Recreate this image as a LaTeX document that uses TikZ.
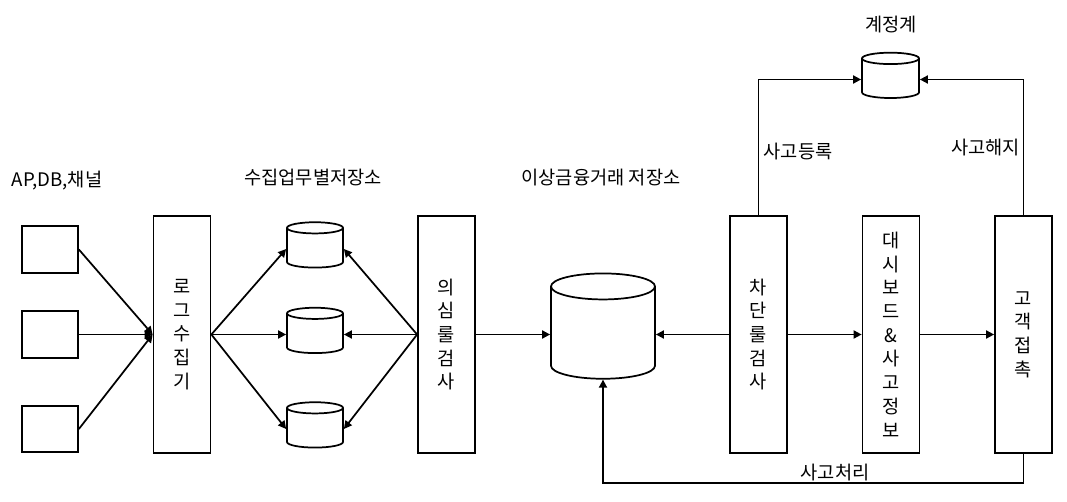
\documentclass[tikz,border=0pt]{standalone}
\usepackage{fontspec}
\setmainfont{Noto Sans CJK KR}
\usetikzlibrary{arrows.meta,shapes.geometric}

\begin{document}
\begin{tikzpicture}[x=0.75pt, y=-0.75pt, line width=1.3pt,
    font=\fontsize{14}{17.8}\selectfont,
    src/.style={draw, minimum width=42pt, minimum height=35pt},
    tallbox/.style={draw, minimum width=42.75pt, minimum height=177.75pt, align=center, inner sep=0pt},
    db/.style={draw, shape=cylinder, shape border rotate=90, aspect=0.2, inner sep=1pt, text width=40pt, minimum height=34pt},
    flow/.style={-{Triangle[length=6pt,width=6pt]}}]
\useasboundingbox (0,0) rectangle (1067,502);

% Draw the three sources and the log collector
\node[src] (src1) at (50,249.5) {};
\node[src] (src2) at (50,334.5) {};
\node[src] (src3) at (50,429) {};
\node at (57,181) (srclabel) {AP,DB,채널};
\node[tallbox] (collect) at (182,334.5) {로\\그\\수\\집\\기};

% Draw the per-task stores
\node[db] (store1) at (315,249) {};
\node[db] (store2) at (315,334.5) {};
\node[db] (store3) at (315,429) {};
\node at (313,178) (storelabel) {수집업무별저장소};

% Draw the rule checks, the big store and the right side
\node[tallbox] (suspect) at (446.5,334.5) {의\\심\\룰\\검\\사};
\node[db, aspect=0.25, text width=76pt, minimum height=79pt] (fraud) at (603,334.5) {};
\node at (601,178) (fraudlabel) {이상금융거래 저장소};
\node[tallbox] (block) at (758.5,334.5) {차\\단\\룰\\검\\사};
\node[tallbox] (board) at (891,334.5) {대\\시\\보\\드\\\&\\사\\고\\정\\보};
\node[tallbox] (contact) at (1023.5,334.5) {고\\객\\접\\촉};

% Draw the account system on top
\node[db, text width=40.75pt] (account) at (890.5,79.5) {};
\node at (891,25) (accountlabel) {계정계};

% Connect everything
\foreach \s in {src1,src2,src3}
  \draw[flow] (\s.east) -- (collect.west);
\foreach \s in {store1,store2,store3}
  \draw[flow] (collect.east) -- (\s.west);
\foreach \s in {store1,store2,store3}
  \draw[flow] (suspect.west) -- (\s.east);
\draw[flow] (suspect.east) -- (fraud.west);
\draw[flow] (block.west) -- (fraud.east);
\draw[flow] (block.east) -- (board.west);
\draw[flow] (board.east) -- (contact.west);
\draw[flow] (block.north) |- (account.west) node[pos=0.233, right] {사고등록};
\draw[flow] (contact.north) |- (account.east) node[pos=0.248, left, inner sep=2pt] {사고해지};
\coordinate (turn) at (1023.5,483);
\draw[flow] (contact.south) -- (turn) -| (fraud.south) node[pos=0.224, above, inner sep=0.5pt] {사고처리};

\end{tikzpicture}
\end{document}
